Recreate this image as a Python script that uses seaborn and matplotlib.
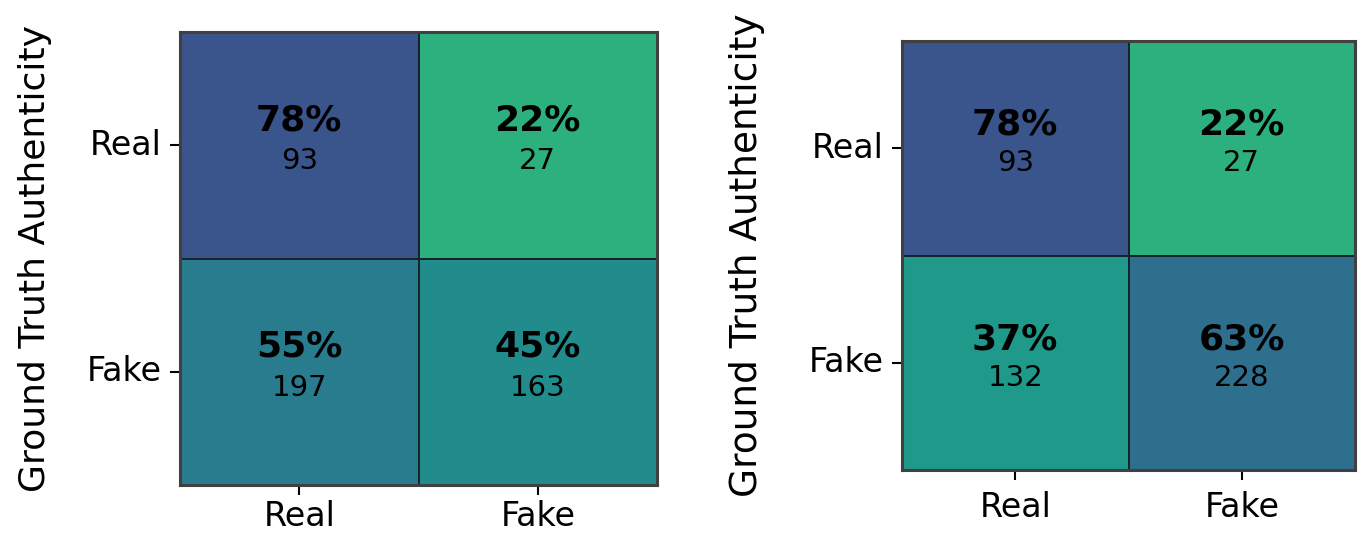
import numpy as np
import pandas as pd
import seaborn as sns
import matplotlib
matplotlib.use("Agg")
import matplotlib.pyplot as plt

labels = ["Real", "Fake"]
left_pct = [[0.78, 0.22], [0.55, 0.45]]
left_cnt = [[93, 27], [197, 163]]
right_pct = [[0.78, 0.22], [0.37, 0.63]]
right_cnt = [[93, 27], [132, 228]]
ylabel = "Ground Truth Authenticity"

sns.set_theme(style="white")
plt.rcParams['font.family'] = ['DejaVu Sans']

fig = plt.figure(figsize=(13.69, 5.33), dpi=100)
ax1 = fig.add_axes([180/1369, 1-485/533, 477/1369, 453/533])
ax2 = fig.add_axes([902/1369, 1-470/533, 453/1369, 429/533])

def draw(ax, pct, cnt, ylsize, xpad):
    df = pd.DataFrame(pct, index=labels, columns=labels)
    sns.heatmap(df, ax=ax, cmap="viridis_r", vmin=-0.31, vmax=1.16, cbar=False,
                linewidths=1.3, linecolor="#18222c", square=False)
    for i in range(len(labels)):
        for j in range(len(labels)):
            ax.text(j + 0.5, i + 0.5 - 0.11, f"{int(round(pct[i][j]*100))}%",
                    ha="center", va="center", fontsize=26, fontweight="bold", color="black")
            ax.text(j + 0.5, i + 0.5 + 0.07, f"{cnt[i][j]}",
                    ha="center", va="center", fontsize=21, color="black")
    for s in ax.spines.values():
        s.set_visible(True)
        s.set_color("#404040")
        s.set_linewidth(2.2)
    ax.tick_params(axis="both", which="both", length=7, width=1.5, color="black",
                   labelsize=24, pad=6, left=True, bottom=True, labelcolor="black")
    ax.tick_params(axis="x", pad=xpad)
    ax.set_yticklabels(labels, rotation=0)
    ax.set_xticklabels(labels, rotation=0)
    ax.set_ylabel(ylabel, fontsize=ylsize, color="black")
    ax.set_xlabel("")

draw(ax1, left_pct, left_cnt, 26, 4)
draw(ax2, right_pct, right_cnt, 27, 8)
ax1.yaxis.set_label_coords(-0.268, 0.5)
ax2.yaxis.set_label_coords(-0.302, 0.5)

fig.savefig("out.png", dpi=100)
